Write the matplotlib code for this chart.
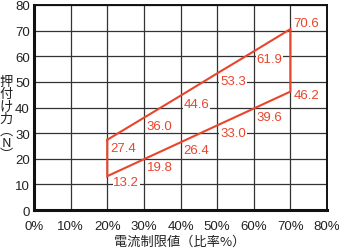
import matplotlib
matplotlib.use("Agg")
import matplotlib.pyplot as plt
import numpy as np

plt.rcParams['font.family'] = ['Liberation Sans', 'Noto Sans CJK JP', 'DejaVu Sans']

ratio = [20, 30, 40, 50, 60, 70]
upper = [27.4, 36.0, 44.6, 53.3, 61.9, 70.6]
lower = [13.2, 19.8, 26.4, 33.0, 39.6, 46.2]
xticks = [0, 10, 20, 30, 40, 50, 60, 70, 80]
xticklabels = ['0%', '10%', '20%', '30%', '40%', '50%', '60%', '70%', '80%']
yticks = [0, 10, 20, 30, 40, 50, 60, 70, 80]
xlabel = '電流制限値（比率%）'
ylabel = '押\n付\nけ\n力\n︵\nN\n︶'

red = '#E8452C'

fig = plt.figure(figsize=(3.39, 2.51), dpi=100)
ax = fig.add_axes([34/339, 1 - 211/251, (327-34)/339, (211-6)/251])
ax.set_xlim(0, 80)
ax.set_ylim(0, 80)

ax.set_xticks(xticks)
ax.set_xticklabels(xticklabels)
ax.set_yticks(yticks)
ax.tick_params(length=0, labelsize=9.5, colors='#222222')
ax.tick_params(axis='x', pad=7)
ax.tick_params(axis='y', pad=3)
ax.grid(True, color='#333333', linewidth=0.9)
ax.set_axisbelow(True)

for side in ['left', 'bottom']:
    ax.spines[side].set_linewidth(2.2)
for side in ['top', 'right']:
    ax.spines[side].set_linewidth(1.4)
for s in ax.spines.values():
    s.set_color('#111111')

xs = ratio + ratio[::-1] + [ratio[0]]
ys = upper + lower[::-1] + [upper[0]]
ax.plot(xs, ys, color=red, linewidth=1.5, solid_joinstyle='miter', zorder=4)

bbox = dict(boxstyle='square,pad=0.05', facecolor='white', edgecolor='none')
for i, (x, y) in enumerate(zip(ratio, upper)):
    if i == len(ratio) - 1:
        ax.annotate(f'{y:.1f}', (x, y), xytext=(3, 0), textcoords='offset pixels',
                    ha='left', va='bottom', color=red, fontsize=9.5, bbox=bbox, zorder=3)
    else:
        ax.annotate(f'{y:.1f}', (x, y), xytext=(3, -2), textcoords='offset pixels',
                    ha='left', va='top', color=red, fontsize=9.5, bbox=bbox, zorder=3)
for i, (x, y) in enumerate(zip(ratio, lower)):
    if i == 0:
        ax.annotate(f'{y:.1f}', (x, y), xytext=(6, 0), textcoords='offset pixels',
                    ha='left', va='top', color=red, fontsize=9.5, bbox=bbox, zorder=3)
    elif i == len(ratio) - 1:
        ax.annotate(f'{y:.1f}', (x, y), xytext=(3, -3), textcoords='offset pixels',
                    ha='left', va='center', color=red, fontsize=9.5, bbox=bbox, zorder=3)
    else:
        ax.annotate(f'{y:.1f}', (x, y), xytext=(3, -2), textcoords='offset pixels',
                    ha='left', va='top', color=red, fontsize=9.5, bbox=bbox, zorder=3)

fig.text(180/339, 1 - 242/251, xlabel, ha='center', va='center', fontsize=9.5,
         color='#222222', family=['Noto Sans CJK JP'])
fig.text(6/339, 1 - 119/251, ylabel, ha='center', va='center', fontsize=9.5,
         color='#222222', linespacing=0.92, family=['Noto Sans CJK JP'])

fig.savefig('out.png', dpi=100)
